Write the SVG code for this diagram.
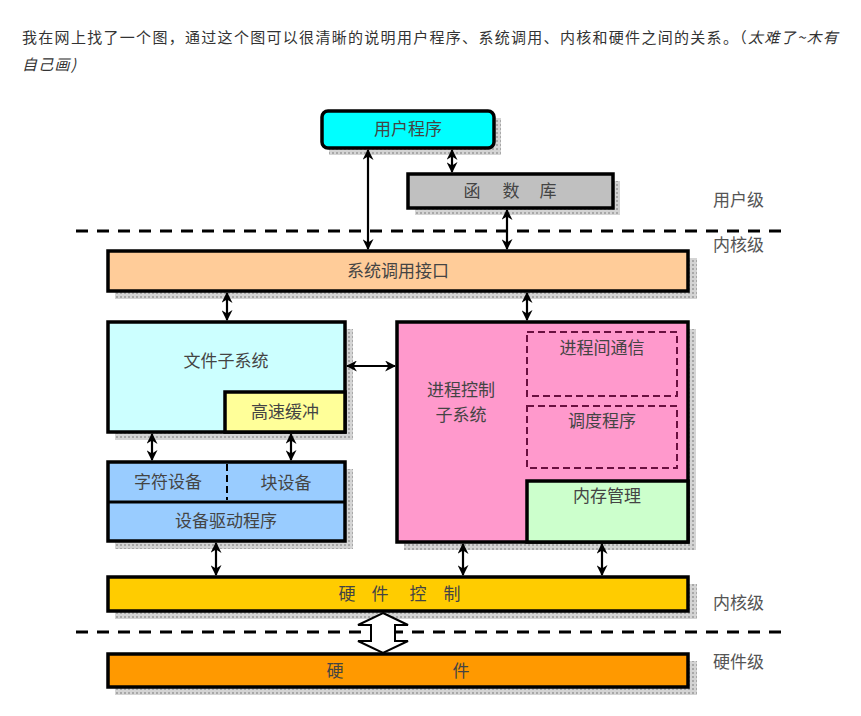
<svg xmlns="http://www.w3.org/2000/svg" width="861" height="716" viewBox="0 0 861 716">
<defs>
<pattern id="sh" width="4" height="4" patternUnits="userSpaceOnUse">
<rect width="4" height="4" fill="#d4d4d4"/>
<rect width="2" height="2" fill="#a8a8a8"/>
</pattern>
<marker id="ah" viewBox="0 0 10 10" refX="9" refY="5" markerWidth="5" markerHeight="5" orient="auto-start-reverse" markerUnits="strokeWidth">
<path d="M0,0 L10,5 L0,10 L3,5 Z" fill="#000"/>
</marker>
<style>
.intro{font-family:"Noto Sans CJK SC","Noto Sans",sans-serif;font-size:15px;letter-spacing:1.3px;fill:#333}
.it{font-style:italic}
.box{stroke:#000;stroke-width:3.5}
.t{font-family:"Noto Sans CJK SC",sans-serif;font-size:17px;text-anchor:middle;fill:#444}
.lv{font-family:"Noto Sans CJK SC",sans-serif;font-size:17px;fill:#555}
.dash{stroke:#000;stroke-width:3;stroke-dasharray:12 9;fill:none}
.ln{stroke:#000;stroke-width:2.2;fill:none;marker-start:url(#ah);marker-end:url(#ah)}
.idash{stroke:#6a1040;stroke-width:2;stroke-dasharray:7 4;fill:none}
.sh{fill:url(#sh)}
</style>
</defs>
<rect width="861" height="716" fill="#fff"/>
<text class="intro" x="22" y="43">我在网上找了一个图，通过这个图可以很清晰的说明用户程序、系统调用、内核和硬件之间的关系。（<tspan class="it">太难了~木有</tspan></text>
<text class="intro it" x="22" y="70">自己画)</text>

<g id="shadows">
<rect class="sh" x="329" y="118" width="172" height="37"/>
<rect class="sh" x="415" y="181" width="205" height="34"/>
<rect class="sh" x="115" y="258" width="582" height="41"/>
<rect class="sh" x="115" y="329" width="238" height="111"/>
<rect class="sh" x="404" y="329" width="292" height="221"/>
<rect class="sh" x="115" y="469" width="238" height="80"/>
<rect class="sh" x="115" y="584" width="582" height="35"/>
<rect class="sh" x="115" y="661" width="582" height="34"/>
</g>

<g id="levels">
<line class="dash" x1="76" y1="231" x2="782" y2="231"/>
<line class="dash" x1="76" y1="632" x2="782" y2="632"/>
<text class="lv" x="713" y="206">用户级</text>
<text class="lv" x="713" y="251">内核级</text>
<text class="lv" x="713" y="609">内核级</text>
<text class="lv" x="713" y="668">硬件级</text>
</g>

<g id="user-program">
<rect class="box" x="322" y="111" width="172" height="37" rx="6" fill="#00ffff"/>
<text class="t" x="408" y="135">用户程序</text>
</g>
<g id="library">
<rect class="box" x="408" y="174" width="205" height="34" fill="#c0c0c0"/>
<text class="t" x="510" y="197"><tspan x="472">函</tspan><tspan x="511">数</tspan><tspan x="548">库</tspan></text>
</g>
<g id="syscall">
<rect class="box" x="108" y="251" width="580" height="40" fill="#ffcc99"/>
<text class="t" x="398" y="277">系统调用接口</text>
</g>
<g id="file-subsystem">
<path class="box" d="M108,322 H345 V432 H108 Z" fill="#ccffff"/>
<text class="t" x="226" y="367">文件子系统</text>
</g>
<g id="buffer-cache">
<rect class="box" x="225" y="392" width="120" height="40" fill="#ffff99"/>
<text class="t" x="285" y="418">高速缓冲</text>
</g>
<g id="devices">
<rect class="box" x="108" y="462" width="237" height="79" fill="#99ccff"/>
<line x1="108" y1="502" x2="345" y2="502" stroke="#000" stroke-width="3"/>
<line x1="227" y1="464" x2="227" y2="500" stroke="#000" stroke-width="2" stroke-dasharray="7 4"/>
<text class="t" x="168" y="488">字符设备</text>
<text class="t" x="286" y="489">块设备</text>
<text class="t" x="226" y="527">设备驱动程序</text>
</g>
<g id="process-control">
<rect class="box" x="397" y="322" width="291" height="220" fill="#ff99cc"/>
<text class="t" x="461" y="396">进程控制</text>
<text class="t" x="461" y="421">子系统</text>
</g>
<g id="ipc">
<rect class="idash" x="527" y="332" width="150" height="64"/>
<text class="t" x="602" y="354">进程间通信</text>
</g>
<g id="scheduler">
<rect class="idash" x="527" y="406" width="150" height="62"/>
<text class="t" x="602" y="427">调度程序</text>
</g>
<g id="memory">
<rect class="box" x="527" y="481" width="161" height="61" fill="#ccffcc"/>
<text class="t" x="607" y="502">内存管理</text>
</g>
<g id="hw-control">
<rect class="box" x="108" y="577" width="580" height="34" fill="#ffcc00"/>
<text class="t" y="600"><tspan x="347">硬</tspan><tspan x="380">件</tspan><tspan x="418">控</tspan><tspan x="452">制</tspan></text>
</g>
<g id="hardware">
<rect class="box" x="108" y="654" width="580" height="33" fill="#ff9900"/>
<text class="t" x="335" y="677">硬</text>
<text class="t" x="461" y="677">件</text>
</g>

<g id="connectors">
<line class="ln" x1="368" y1="150" x2="368" y2="249"/>
<line class="ln" x1="452" y1="150" x2="452" y2="172"/>
<line class="ln" x1="507" y1="210" x2="507" y2="249"/>
<line class="ln" x1="227" y1="293" x2="227" y2="320"/>
<line class="ln" x1="527" y1="293" x2="527" y2="320"/>
<line class="ln" x1="347" y1="366" x2="395" y2="366"/>
<line class="ln" x1="152" y1="434" x2="152" y2="460"/>
<line class="ln" x1="291" y1="434" x2="291" y2="460"/>
<line class="ln" x1="216" y1="543" x2="216" y2="575"/>
<line class="ln" x1="463" y1="544" x2="463" y2="575"/>
<line class="ln" x1="602" y1="544" x2="602" y2="575"/>
<path d="M383,613 L408,625 L395,625 L395,641 L408,641 L383,653 L358,641 L371,641 L371,625 L358,625 Z" fill="#fff" stroke="#000" stroke-width="2"/>
</g>
</svg>
